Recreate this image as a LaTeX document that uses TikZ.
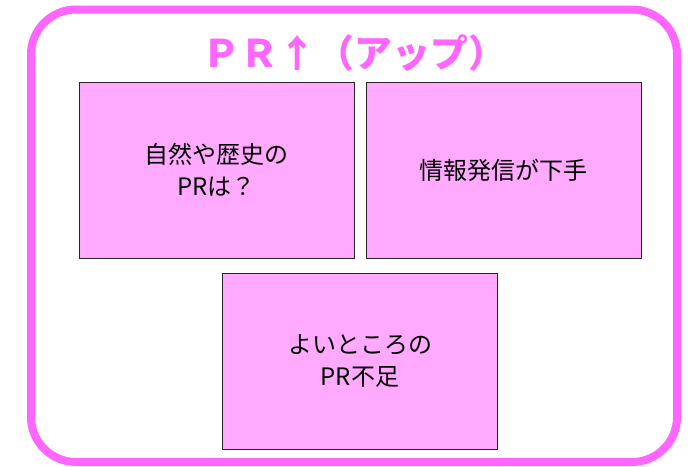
\documentclass[tikz,border=0pt]{standalone}
\usepackage{fontspec}
\usepackage{xcolor}
\newfontfamily\jpfont{Noto Sans CJK JP}
\definecolor{framepink}{HTML}{FF66FF}
\definecolor{boxpink}{HTML}{FFAAFF}
\tikzset{
  issuebox/.style={draw=black!85, line width=1pt, fill=boxpink,
    minimum width=275pt, minimum height=176pt, inner sep=0pt,
    align=center, font=\jpfont\fontsize{24pt}{32pt}\selectfont},
}

\begin{document}
\begin{tikzpicture}[x=1pt,y=-1pt]
\useasboundingbox (0,0) rectangle (700,466);
% outer frame
\draw[framepink, line width=8pt, rounded corners=45pt] (31,9.5) rectangle (677,462);
% title
\node[text=framepink, font=\jpfont\bfseries\fontsize{38pt}{38pt}\selectfont] (title) at (354,53) {ＰＲ↑（アップ）};
% boxes
\node[issuebox] (nature) at (216.5,170) {自然や歴史の\\PRは？};
\node[issuebox] (info) at (503.5,170) {情報発信が下手};
\node[issuebox] (good) at (360,361.5) {よいところの\\PR不足};
\end{tikzpicture}
\end{document}
